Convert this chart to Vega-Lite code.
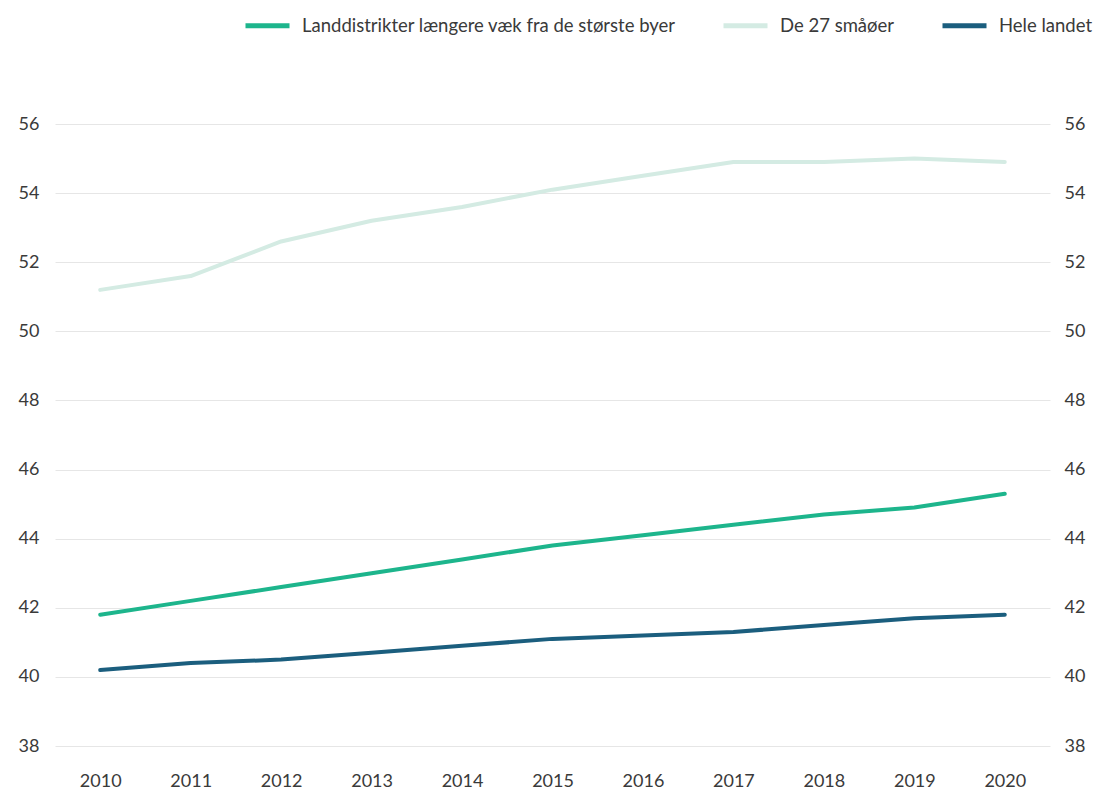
{
  "$schema": "https://vega.github.io/schema/vega-lite/v6.json",
  "width": 995,
  "height": 622,
  "autosize": {"type": "none"},
  "padding": {"left": 55, "top": 124, "right": 43, "bottom": 48},
  "background": "white",
  "config": {
    "view": {"stroke": null},
    "font": "Lato",
    "axis": {"labelFont": "Lato", "labelFontSize": 18, "labelFontWeight": "normal", "labelColor": "#3a3a3a", "domain": false, "ticks": false, "title": null, "gridColor": "#e6e6e6", "gridWidth": 1},
    "legend": {"labelFont": "Lato", "labelFontSize": 18.5, "labelFontWeight": "normal", "labelColor": "#3a3a3a", "labelLimit": 1000}
  },
  "data": {"values": [
    {"year": "2010", "series": "Landdistrikter længere væk fra de største byer", "value": 41.8},
    {"year": "2011", "series": "Landdistrikter længere væk fra de største byer", "value": 42.2},
    {"year": "2012", "series": "Landdistrikter længere væk fra de største byer", "value": 42.6},
    {"year": "2013", "series": "Landdistrikter længere væk fra de største byer", "value": 43.0},
    {"year": "2014", "series": "Landdistrikter længere væk fra de største byer", "value": 43.4},
    {"year": "2015", "series": "Landdistrikter længere væk fra de største byer", "value": 43.8},
    {"year": "2016", "series": "Landdistrikter længere væk fra de største byer", "value": 44.1},
    {"year": "2017", "series": "Landdistrikter længere væk fra de største byer", "value": 44.4},
    {"year": "2018", "series": "Landdistrikter længere væk fra de største byer", "value": 44.7},
    {"year": "2019", "series": "Landdistrikter længere væk fra de største byer", "value": 44.9},
    {"year": "2020", "series": "Landdistrikter længere væk fra de største byer", "value": 45.3},
    {"year": "2010", "series": "De 27 småøer", "value": 51.2},
    {"year": "2011", "series": "De 27 småøer", "value": 51.6},
    {"year": "2012", "series": "De 27 småøer", "value": 52.6},
    {"year": "2013", "series": "De 27 småøer", "value": 53.2},
    {"year": "2014", "series": "De 27 småøer", "value": 53.6},
    {"year": "2015", "series": "De 27 småøer", "value": 54.1},
    {"year": "2016", "series": "De 27 småøer", "value": 54.5},
    {"year": "2017", "series": "De 27 småøer", "value": 54.9},
    {"year": "2018", "series": "De 27 småøer", "value": 54.9},
    {"year": "2019", "series": "De 27 småøer", "value": 55.0},
    {"year": "2020", "series": "De 27 småøer", "value": 54.9},
    {"year": "2010", "series": "Hele landet", "value": 40.2},
    {"year": "2011", "series": "Hele landet", "value": 40.4},
    {"year": "2012", "series": "Hele landet", "value": 40.5},
    {"year": "2013", "series": "Hele landet", "value": 40.7},
    {"year": "2014", "series": "Hele landet", "value": 40.9},
    {"year": "2015", "series": "Hele landet", "value": 41.1},
    {"year": "2016", "series": "Hele landet", "value": 41.2},
    {"year": "2017", "series": "Hele landet", "value": 41.3},
    {"year": "2018", "series": "Hele landet", "value": 41.5},
    {"year": "2019", "series": "Hele landet", "value": 41.7},
    {"year": "2020", "series": "Hele landet", "value": 41.8}
  ]},
  "layer": [
    {
      "mark": {"type": "line", "strokeWidth": 4, "strokeCap": "round", "strokeJoin": "round"},
      "encoding": {
        "x": {"field": "year", "type": "ordinal", "scale": {"type": "point", "padding": 0.5}, "axis": {"labelAngle": 0, "labelPadding": 26, "grid": false}},
        "y": {"field": "value", "type": "quantitative", "scale": {"domain": [38, 56], "nice": false, "zero": false}, "axis": {"orient": "left", "values": [38, 40, 42, 44, 46, 48, 50, 52, 54, 56], "labelPadding": 16, "grid": true}},
        "color": {
          "field": "series", "type": "nominal",
          "scale": {"domain": ["Landdistrikter længere væk fra de største byer", "De 27 småøer", "Hele landet"], "range": ["#1db58c", "#d4ebe3", "#1b5e7e"]},
          "legend": {"title": null, "orient": "none", "direction": "horizontal", "legendX": 188, "legendY": -123, "symbolType": "stroke", "symbolSize": 1936, "symbolStrokeWidth": 5, "labelOffset": 10, "columnPadding": 37, "symbolOffset": 0}
        }
      }
    },
    {
      "mark": {"type": "line", "strokeOpacity": 0},
      "encoding": {
        "x": {"field": "year", "type": "ordinal", "scale": {"type": "point", "padding": 0.5}},
        "y": {"field": "value", "type": "quantitative", "scale": {"domain": [38, 56], "nice": false, "zero": false}, "axis": {"orient": "right", "values": [38, 40, 42, 44, 46, 48, 50, 52, 54, 56], "labelPadding": 14, "grid": false}},
        "detail": {"field": "series"}
      }
    }
  ],
  "resolve": {"axis": {"y": "independent"}}
}
